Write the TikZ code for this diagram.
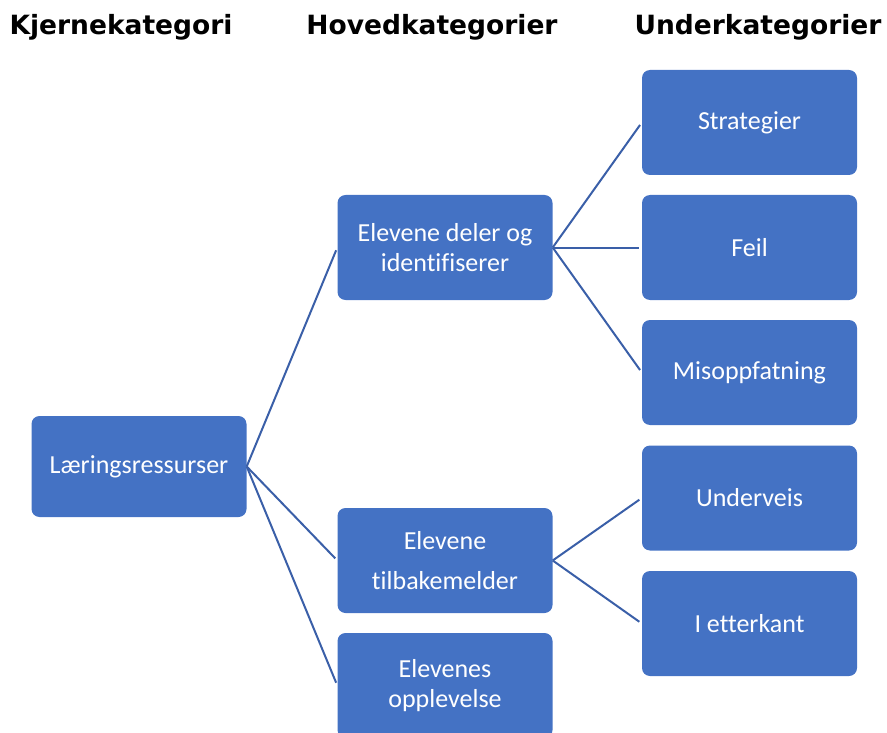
\documentclass[tikz,border=0pt]{standalone}
\usepackage{fontspec}
\setmainfont{Carlito}[Ligatures=NoCommon]
\newfontfamily\headfont{DejaVu Sans}
\definecolor{boxblue}{HTML}{4472C4}
\definecolor{lineblue}{HTML}{3A5FA8}
\tikzset{
    catbox/.style={rectangle, rounded corners=8pt, fill=boxblue, draw=none,
        minimum width=215pt, minimum height=105pt, text=white, align=center,
        font=\fontsize{26}{30}\selectfont},
    heading/.style={font=\headfont\bfseries\fontsize{26.5}{30}\selectfont},
    branch/.style={draw=lineblue, line width=2pt, shorten >=3pt}
}
\begin{document}
\begin{tikzpicture}[x=1pt, y=-1pt]
            \useasboundingbox (0,0) rectangle (887,733);
            \clip (0,0) rectangle (887,733);
            % ---------- overskrifter ----------
            \node[heading] (hkjerne) at (121,27) {Kjernekategori};
            \node[heading] (hhoved) at (432,27) {Hovedkategorier};
            \node[heading] (hunder) at (758,27) {Underkategorier};
            % ---------- kjernekategori ----------
            \node[catbox, minimum height=101pt] (laering) at (139,466.5) {Læringsressurser};
            % ---------- hovedkategorier ----------
            \node[catbox] (deler) at (445,247.5) {Elevene deler og\\identifiserer};
            \node[catbox] (tilbake) at (445,560.5) {Elevene\\[10pt]tilbakemelder};
            \node[catbox] (opplev) at (445,685.5) {Elevenes\\opplevelse};
            % ---------- underkategorier ----------
            \node[catbox] (strat) at (749.5,122.5) {Strategier};
            \node[catbox] (feil) at (749.5,247.5) {Feil};
            \node[catbox] (misopp) at (749.5,372.5) {Misoppfatning};
            \node[catbox] (underv) at (749.5,498) {Underveis};
            \node[catbox] (etterk) at (749.5,623.5) {I etterkant};
            % ---------- forbindelser ----------
            \foreach \target in {deler, tilbake, opplev}
                \draw[branch] (laering.east) -- (\target.west);
            \foreach \target in {strat, feil, misopp}
                \draw[branch] (deler.east) -- (\target.west);
            \foreach \target in {underv, etterk}
                \draw[branch] (tilbake.east) -- (\target.west);
\end{tikzpicture}
\end{document}
